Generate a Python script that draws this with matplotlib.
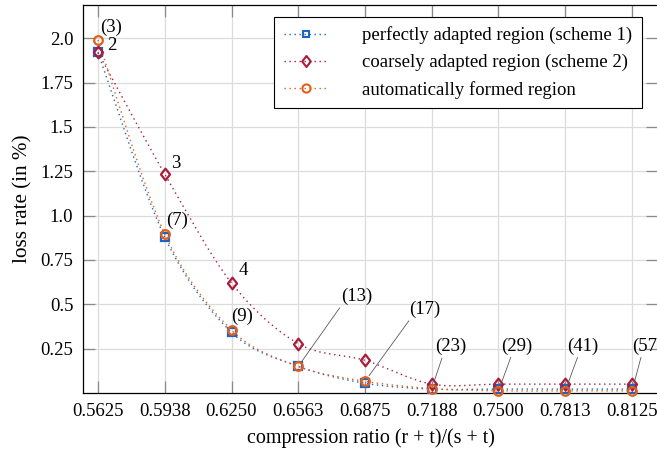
import matplotlib
matplotlib.use("Agg")
import matplotlib.pyplot as plt
from matplotlib.path import Path
from matplotlib.patches import PathPatch
from matplotlib.lines import Line2D

plt.rcParams['font.family'] = ['Liberation Serif', 'DejaVu Serif']
plt.rcParams['font.size'] = 13.5

# compression ratio (r + t)/(s + t)
ratios = [0.5625, 0.59375, 0.625, 0.65625, 0.6875, 0.71875, 0.75, 0.78125, 0.8125]
tick_labels = ["0.5625", "0.5938", "0.6250", "0.6563", "0.6875",
               "0.7188", "0.7500", "0.7813", "0.8125"]

# loss rate in percent
scheme1 = [1.92, 0.878, 0.342, 0.150, 0.055, 0.022, 0.022, 0.022, 0.022]
scheme2 = [1.92, 1.234, 0.620, 0.278, 0.184, 0.050, 0.050, 0.050, 0.050]
automatic = [1.99, 0.896, 0.355, 0.150, 0.066, 0.025, 0.012, 0.012, 0.012]

# region counts written next to the marks
scheme2_counts = ["2", "3", "4"]
auto_counts = ["(3)", "(7)", "(9)", "(13)", "(17)", "(23)", "(29)", "(41)", "(57)"]

y_ticks = [0.25, 0.5, 0.75, 1.0, 1.25, 1.5, 1.75, 2.0]
y_tick_labels = ["0.25", "0.5", "0.75", "1.0", "1.25", "1.5", "1.75", "2.0"]

c_blue = "#1f63c6"
c_red = "#a91d3a"
c_orange = "#e0601b"
dots = (0, (1.0, 2.6))

# a diamond a little wider than matplotlib's thin diamond
diamond = Path([(0, 1), (0.78, 0), (0, -1), (-0.78, 0), (0, 1)],
               [Path.MOVETO, Path.LINETO, Path.LINETO, Path.LINETO, Path.CLOSEPOLY])


def smooth_path(xs, ys, tension=0.16):
    """Cubic Bezier path through the points (tangent from neighbours)."""
    n = len(xs)
    pts = list(zip(xs, ys))
    tang = []
    for i in range(n):
        a = pts[max(i - 1, 0)]
        b = pts[min(i + 1, n - 1)]
        tang.append((b[0] - a[0], b[1] - a[1]))
    verts = [pts[0]]
    codes = [Path.MOVETO]
    for i in range(n - 1):
        p, q = pts[i], pts[i + 1]
        c1 = (p[0] + tension * tang[i][0], p[1] + tension * tang[i][1])
        c2 = (q[0] - tension * tang[i + 1][0], q[1] - tension * tang[i + 1][1])
        verts += [c1, c2, q]
        codes += [Path.CURVE4] * 3
    return Path(verts, codes)


fig = plt.figure(figsize=(6.57, 4.53), dpi=100)
W, H = 657, 453
ax_l, ax_r, ax_t, ax_b = 83, 658, 5, 393
ax = fig.add_axes([ax_l / W, 1 - ax_b / H, (ax_r - ax_l) / W, (ax_b - ax_t) / H])

x_lo = 0.5625 - 15 / 66.75 * 0.03125
x_hi = 0.8125 + 26 / 66.75 * 0.03125
ax.set_xlim(x_lo, x_hi)
ax.set_ylim(0, 2.187)

series = [
    (scheme1, c_blue, "s", 5.2, "perfectly adapted region (scheme 1)"),
    (scheme2, c_red, diamond, 8.4, "coarsely adapted region (scheme 2)"),
    (automatic, c_orange, "o", 6.2, "automatically formed region"),
]
handles = []
for k, (vals, col, mk, ms, lab) in enumerate(series):
    patch = PathPatch(smooth_path(ratios, vals), fill=False, edgecolor=col,
                      lw=1.0, linestyle=dots, zorder=3 + k, capstyle="butt")
    ax.add_patch(patch)
    ax.plot(ratios, vals, linestyle="none", marker=mk, ms=ms, mfc="none",
            mec=col, mew=1.6, zorder=6 + k, clip_on=False)
    handles.append(Line2D([], [], color=col, lw=1.0, linestyle=dots,
                          marker=mk, ms=ms * 0.95, mfc="none", mec=col, mew=1.5))

# grid and ticks
ax.set_xticks(ratios)
ax.set_xticklabels(tick_labels)
ax.set_yticks(y_ticks)
ax.set_yticklabels(y_tick_labels)
ax.grid(True, color="#dcdcdc", lw=0.9)
ax.set_axisbelow(True)
ax.tick_params(direction="in", length=8.5, width=0.9, color="#8a8a8a",
               top=True, right=True, pad=7)
for s in ax.spines.values():
    s.set_linewidth(0.9)
    s.set_color("black")

ax.set_xlabel("compression ratio (r + t)/(s + t)", fontsize=14.4, labelpad=6)
ax.set_ylabel("loss rate (in %)", fontsize=15.2, labelpad=6)

# labels beside the scheme-2 marks
s2_offsets = [(14, 7), (11, 11), (12, 13)]
for i, (lab, off) in enumerate(zip(scheme2_counts, s2_offsets)):
    ax.annotate(lab, xy=(ratios[i], scheme2[i]), xytext=off,
                textcoords="offset pixels", ha="center", va="center",
                zorder=10, annotation_clip=False)

# labels for the automatically formed regions
auto_offsets = [(13, 13), (12, 14), (11, 14), (59, 70), (60, 72),
                (19, 42), (18, 45), (18, 45), (16, 45)]
pin_relpos = [None, None, None, (0.0, 0.0), (0.05, 0.0),
              (0.25, 0.0), (0.35, 0.0), (0.35, 0.0), (0.3, 0.0)]
for i, lab in enumerate(auto_counts):
    kw = {}
    if pin_relpos[i] is not None:
        kw["arrowprops"] = dict(arrowstyle="-", color="#5a5a5a", lw=0.6,
                                relpos=pin_relpos[i], shrinkA=0, shrinkB=5)
    ax.annotate(lab, xy=(ratios[i], automatic[i]), xytext=auto_offsets[i],
                textcoords="offset pixels", ha="center", va="center",
                zorder=10, annotation_clip=False, **kw)

leg = ax.legend(handles, [s[4] for s in series], loc="upper right",
                bbox_to_anchor=((642 - ax_l) / (ax_r - ax_l), 1 - 12 / (ax_b - ax_t)),
                borderaxespad=0, fancybox=False, framealpha=1, edgecolor="black",
                handlelength=2.35, handletextpad=1.85, labelspacing=0.52,
                borderpad=0.5, fontsize=13.5)
leg.get_frame().set_linewidth(0.8)
leg.set_zorder(20)

fig.savefig("out.png", dpi=100)
